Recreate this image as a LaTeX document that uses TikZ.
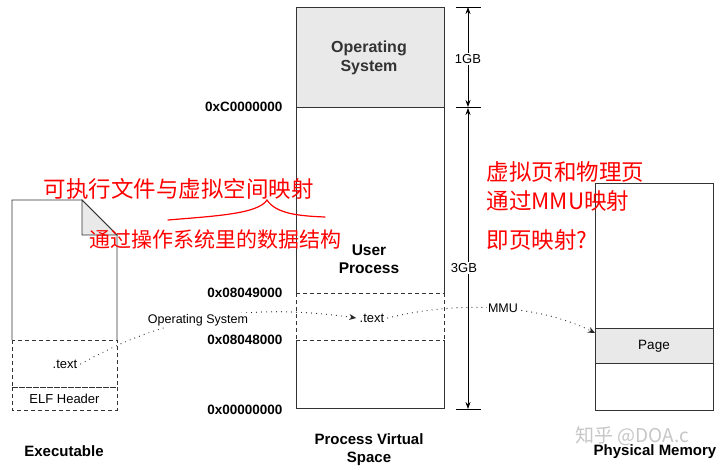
\documentclass[tikz,border=0pt]{standalone}
\usepackage{fontspec}
\setmainfont{Liberation Sans}
\newfontfamily\cjk{Noto Sans CJK SC}
\usetikzlibrary{arrows.meta}
\definecolor{boxgray}{HTML}{E9E9E9}
\definecolor{dashgray}{HTML}{333333}
\tikzset{
  solidline/.style={draw=black!80, line width=0.9pt},
  dashline/.style={draw=dashgray, line width=0.9pt, dash pattern=on 4pt off 3pt},
  addr/.style={font=\fontsize{13.5}{16}\selectfont\bfseries, anchor=east},
  small/.style={font=\fontsize{13}{15}\selectfont},
  title/.style={font=\fontsize{15}{18}\selectfont\bfseries, align=center},
  conn/.style={draw=black!85, line width=1.2pt, line cap=round, dash pattern=on 0pt off 5pt, -{Stealth[length=7pt,width=6pt]}},
  dimarrow/.style={draw=black, line width=0.8pt, -{Stealth[length=7pt,width=5pt]}},
  note/.style={text=red, font=\cjk\fontsize{22.5}{26}\selectfont, anchor=west},
  connlabel/.style={fill=white, inner sep=1pt, font=\fontsize{12.5}{15}\selectfont}
}
\begin{document}
\begin{tikzpicture}[x=1pt,y=-1pt]
\useasboundingbox[fill=white] (0,0) rectangle (720,469);

% ---------- Executable file ----------
\draw[solidline] (12,340) -- (12,200) -- (82,200) -- (117,235) -- (117,340);
\filldraw[solidline, fill=boxgray] (82,200) -- (82,235) -- (117,235) -- cycle;
\draw[dashline] (12,340) rectangle (117,387);
\draw[dashline] (12,387) rectangle (117,410);
\node[small] (exetext) at (65,364) {.text};
\node[small] (elf) at (64.5,399) {ELF Header};
\node[title] (exe) at (64,451) {Executable};

% ---------- Process virtual space ----------
\filldraw[solidline, fill=boxgray] (296,7) rectangle (444,107);
\node[font=\fontsize{16}{19}\selectfont\bfseries, align=center, text=black!80] (os) at (369,58) {Operating\\System};
\draw[solidline] (296,293) -- (296,107) -- (444,107) -- (444,293);
\draw[dashline] (296,293) -- (444,293);
\draw[dashline] (296,340) -- (444,340);
\draw[dashline] (296,293) -- (296,340);
\draw[dashline] (444,293) -- (444,340);
\draw[solidline] (296,340) -- (296,408) -- (444,408) -- (444,340);
\node[font=\fontsize{15.5}{18.5}\selectfont\bfseries, align=center] (user) at (369,259) {User\\Process};
\node[small] (vtext) at (372,318) {.text};
\node[title, font=\fontsize{15}{18}\selectfont\bfseries] (pvs) at (369,450) {Process Virtual\\Space};

\node[addr] (a1) at (286,107) {0xC0000000};
\node[addr] (a2) at (286,293) {0x08049000};
\node[addr] (a3) at (286,340) {0x08048000};
\node[addr] (a4) at (286,410) {0x00000000};

% ---------- Dimension lines ----------
\coordinate (t0) at (468,7);
\coordinate (t1) at (468,107);
\coordinate (t2) at (468,409);
\draw[black, line width=0.9pt] (456,7) -- (481,7);
\draw[black, line width=0.9pt] (456,107) -- (481,107);
\draw[black, line width=0.9pt] (456,409) -- (481,409);
\coordinate (m1) at (468,57);
\coordinate (m2) at (468,268);
\draw[dimarrow] (m1) -- (t0);
\draw[dimarrow] (m1) -- (t1);
\draw[dimarrow] (m2) -- (468,108);
\draw[dimarrow] (m2) -- (t2);
\node[small, fill=white, inner sep=1.5pt] (g1) at (468,59) {1GB};
\node[small, fill=white, inner sep=1.5pt] (g3) at (464,268) {3GB};

% ---------- Physical memory ----------
\draw[solidline] (595,183) rectangle (713,410);
\filldraw[solidline, fill=boxgray] (595,328) rectangle (713,363);
\node[small, font=\fontsize{13.5}{16}\selectfont] (page) at (654,346) {Page};
\node[title] (pm) at (655,452) {Physical Memory};
\coordinate (pagein) at (595,333);

% ---------- Connectors ----------
\draw[conn] (exetext.east) .. controls (150,325) and (230,300) .. (vtext.west);
\node[connlabel] (oslab) at (198,320) {Operating System};
\draw[conn] (vtext.east) .. controls (460,300) and (540,305) .. (pagein);
\node[connlabel] (mmulab) at (503,308) {MMU};

% ---------- Red annotations ----------
\node[note] (n1) at (40,189) {可执行文件与虚拟空间映射};
\draw[red, line width=1.2pt, line cap=round] (168,220) .. controls (215,216) and (258,214) .. (267,200)
   .. controls (276,214) and (300,216) .. (325,217);
\node[note, font=\cjk\fontsize{21}{25}\selectfont] (n2) at (86,240) {通过操作系统里的数据结构};
\node[note] (n3) at (483,172) {虚拟页和物理页};
\node[note] (n4) at (483,201) {通过MMU映射};
\node[note] (n5) at (483,240) {即页映射?};

% ---------- Watermark ----------
\node[text=black!22, font=\cjk\fontsize{19}{21}\selectfont, anchor=west] (wm) at (572,436) {知乎 @DOA.c};
\end{tikzpicture}
\end{document}
